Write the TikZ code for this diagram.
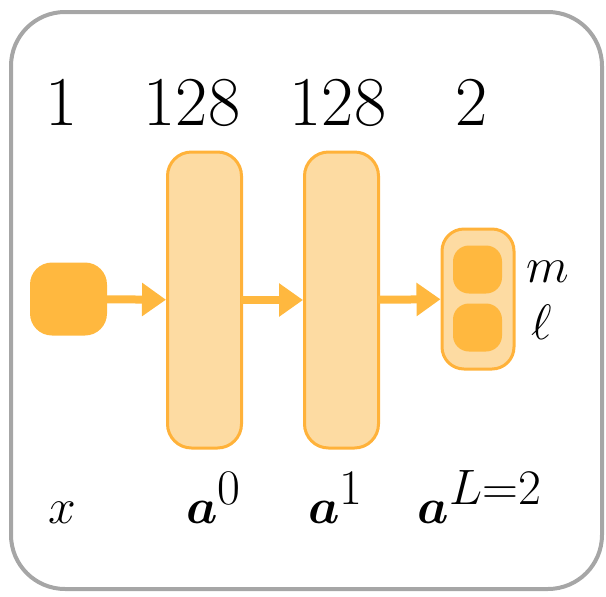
\documentclass[tikz,border=0pt]{standalone}
\usepackage{amsmath,amssymb,bm}
\usepackage{tikz}
\usetikzlibrary{arrows.meta,positioning,calc}
\definecolor{darkor}{RGB}{255,184,63}
\definecolor{lightor}{RGB}{253,219,162}
\definecolor{lineor}{RGB}{255,178,58}
\definecolor{framegr}{RGB}{166,166,166}

\begin{document}
\begin{tikzpicture}[x=0.5pt,y=-0.5pt,>={Triangle[length=12pt,width=16pt]},
  layer/.style={draw=lineor,fill=lightor,line width=1.5pt,rounded corners=12pt,minimum width=37pt,minimum height=148pt,inner sep=0pt},
  unit/.style={fill=darkor,rounded corners=8pt,minimum width=24.5pt,minimum height=24pt,inner sep=0pt},
  flow/.style={->,draw=darkor,line width=4pt,shorten <=-1pt},
  num/.style={anchor=base,font=\fontsize{35}{38}\selectfont},
  lab/.style={anchor=base,font=\fontsize{37}{40}\selectfont}]
\useasboundingbox (0,0) rectangle (606,596);
\draw[framegr,line width=2pt,rounded corners=27pt] (11,12) rectangle (602,589);
% layers
\node[fill=darkor,rounded corners=11pt,minimum width=38.5pt,minimum height=36.5pt,inner sep=0pt] (in) at (68.5,299) {};
\node[layer] (h0) at (204.5,300) {};
\node[layer] (h1) at (341.5,300) {};
\node[draw=lineor,fill=lightor,line width=1.5pt,rounded corners=11pt,minimum width=36pt,minimum height=70pt,inner sep=0pt] (out) at (478,299) {};
\node[unit] (o1) at (477.5,269.5) {};
\node[unit] (o2) at (477.5,327.5) {};
\draw[flow] (in) -- (h0);
\draw[flow] (h0) -- (h1);
\draw[flow] (h1) -- (out);
% sizes
\node[num] (n0) at (62,125) {1};
\node[num] (n1) at (192,125) {128};
\node[num] (n2) at (338,125) {128};
\node[num] (n3) at (472,125) {2};
% names
\node[lab] (x) at (62,523) {$x$};
\node[lab] (a0) at (214,523) {$\bm{a}^0$};
\node[lab] (a1) at (336,523) {$\bm{a}^1$};
\node[lab] (aL) at (480,523) {$\bm{a}^{L=2}$};
\node[lab,anchor=base west,font=\fontsize{34}{36}\selectfont] (m) at (519,282) {$m$};
\node[lab,anchor=base west,font=\fontsize{34}{36}\selectfont] (l) at (524,339) {$\ell$};
\end{tikzpicture}
\end{document}
